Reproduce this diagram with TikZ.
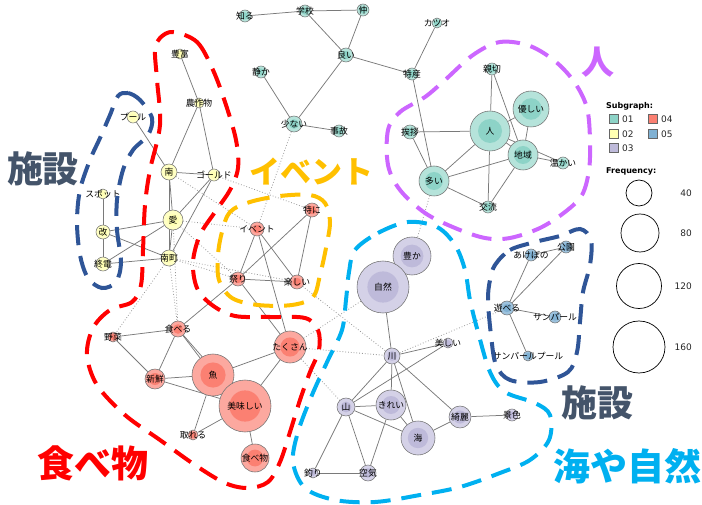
\documentclass[tikz,border=0pt]{standalone}
\usepackage{fontspec}
\setmainfont{DejaVu Sans}
\newfontfamily\cjk{Noto Sans CJK JP}
\usetikzlibrary{backgrounds}
\definecolor{tA}{HTML}{8DD3C7}\definecolor{tAL}{HTML}{B5E3DA}
\definecolor{yB}{HTML}{FFFFB3}\definecolor{yBL}{HTML}{FFFFC4}
\definecolor{pC}{HTML}{BEBADA}\definecolor{pCL}{HTML}{D4D1E7}
\definecolor{rD}{HTML}{FB8072}\definecolor{rDL}{HTML}{FCA89F}
\definecolor{bE}{HTML}{80B1D3}\definecolor{bEL}{HTML}{9DC2DD}
\definecolor{cRed}{HTML}{FF0000}
\definecolor{cOra}{HTML}{FFC000}
\definecolor{cPur}{HTML}{CC66FF}
\definecolor{cCya}{HTML}{00B0F0}
\definecolor{cNav}{HTML}{2F5597}
\definecolor{cSla}{HTML}{44546A}
\newcommand{\wn}[6]{%
  \node[wnode, fill=#5L, minimum size=#4*2pt,
    path picture={\fill[#5] (path picture bounding box.center) circle[radius=#4*0.6pt];}]
    (#1) at (#2,#3) {};
  \node[wlab] (#1t) at (#1.center) {#6};}
\begin{document}
\begin{tikzpicture}[x=1pt,y=-1pt,
  wnode/.style={circle, draw=black!55, line width=0.55pt, inner sep=0pt},
  wlab/.style={font=\cjk\fontsize{8.8}{9}\selectfont, inner sep=0pt, text=black},
  edge/.style={draw=black!52, line width=0.75pt},
  dots/.style={draw=black!40, line width=0.8pt, dotted},
  grp/.style={line width=4pt, dash pattern=on 20pt off 11pt, line cap=butt},
  biglab/.style={font=\cjk\bfseries\fontsize{#1}{#1}\selectfont, inner sep=0pt},
  legtxt/.style={font=\fontsize{9}{10}\selectfont, inner sep=0pt, text=black!85},
  leghead/.style={font=\bfseries\fontsize{8}{9}\selectfont, inner sep=0pt, anchor=west},
  legbox/.style={draw=black!60, line width=0.6pt, minimum size=9pt, inner sep=0pt},
  freq/.style={circle, draw=black, line width=0.7pt, inner sep=0pt},
]
\useasboundingbox (0,0) rectangle (702,505);

% ---- subgraph 01
\wn{shiru}{245}{16}{6}{tA}{知る}
\wn{gakkou}{305}{11}{6}{tA}{学校}
\wn{naka}{363}{10}{6}{tA}{仲}
\wn{yoi}{346}{55}{7}{tA}{良い}
\wn{katsuo}{437}{23}{5}{tA}{カツオ}
\wn{tokusan}{412}{74}{6}{tA}{特産}
\wn{shizuka}{261}{72}{6}{tA}{静か}
\wn{sukunai}{294}{124}{8}{tA}{少ない}
\wn{jiko}{339}{131}{6}{tA}{事故}
\wn{shinsetsu}{492}{69}{6}{tA}{親切}
\wn{yasashii}{531}{109}{18}{tA}{優しい}
\wn{hito}{490}{131}{20}{tA}{人}
\wn{aisatsu}{410}{132}{7}{tA}{挨拶}
\wn{chiiki}{523}{155}{15}{tA}{地域}
\wn{atatakai}{563}{163}{6}{tA}{温かい}
\wn{ooi}{434}{181}{15}{tA}{多い}
\wn{kouryu}{488}{207}{6}{tA}{交流}
% ---- subgraph 02
\wn{houfu}{180}{54}{5}{yB}{豊富}
\wn{nousaku}{199}{103}{5}{yB}{農作物}
\wn{puuru}{133}{117}{6}{yB}{プール}
\wn{minami}{169}{172}{8}{yB}{南}
\wn{gold}{214}{175}{6}{yB}{ゴールド}
\wn{ai}{173}{220}{10}{yB}{愛}
\wn{minamimachi}{169}{258}{8}{yB}{南町}
\wn{spot}{103}{194}{5}{yB}{スポット}
\wn{kai}{103}{232}{7}{yB}{改}
\wn{shuuden}{103}{264}{7}{yB}{終電}
% ---- subgraph 04
\wn{event}{257}{229}{7}{rD}{イベント}
\wn{tokuni}{312}{210}{7}{rD}{特に}
\wn{matsuri}{238}{279}{7}{rD}{祭り}
\wn{tanoshii}{297}{282}{7}{rD}{楽しい}
\wn{taberu}{178}{329}{8}{rD}{食べる}
\wn{yasai}{113}{337}{5}{rD}{野菜}
\wn{shinsen}{155}{379}{10}{rD}{新鮮}
\wn{sakana}{213}{375}{21}{rD}{魚}
\wn{takusan}{290}{347}{16}{rD}{たくさん}
\wn{oishii}{245}{406}{26}{rD}{美味しい}
\wn{toreru}{193}{435}{5}{rD}{取れる}
\wn{tabemono}{255}{458}{14}{rD}{食べ物}
% ---- subgraph 03
\wn{yutaka}{412}{256}{19}{pC}{豊か}
\wn{shizen}{383}{287}{26}{pC}{自然}
\wn{kawa}{392}{356}{8}{pC}{川}
\wn{utsukushii}{448}{343}{5}{pC}{美しい}
\wn{yama}{346}{407}{9}{pC}{山}
\wn{kirei}{391}{405}{15}{pC}{きれい}
\wn{umi}{418}{438}{17}{pC}{海}
\wn{kireiB}{460}{417}{11}{pC}{綺麗}
\wn{tsuri}{313}{473}{5}{pC}{釣り}
\wn{kuuki}{368}{473}{8}{pC}{空気}
\wn{keshiki}{512}{415}{6}{pC}{景色}
% ---- subgraph 05
\wn{akebono}{531}{255}{6}{bE}{あけぼの}
\wn{kouen}{566}{247}{6}{bE}{公園}
\wn{asoberu}{507}{308}{7}{bE}{遊べる}
\wn{sunpearl}{555}{317}{6}{bE}{サンパール}
\wn{sunpool}{528}{356}{5}{bE}{サンパールプール}

\begin{pgfonlayer}{background}
\foreach \a/\b in {shiru/gakkou, gakkou/naka, gakkou/yoi, naka/yoi, yoi/tokusan, yoi/sukunai,
  shizuka/sukunai, sukunai/jiko, katsuo/tokusan, tokusan/ooi, aisatsu/hito, aisatsu/ooi,
  shinsetsu/hito, shinsetsu/chiiki, hito/yasashii, hito/chiiki, hito/ooi, hito/kouryu,
  hito/atatakai, yasashii/chiiki, chiiki/atatakai, chiiki/ooi, chiiki/kouryu, ooi/kouryu,
  houfu/nousaku, nousaku/minami, nousaku/gold, puuru/minami, minami/gold, minami/ai,
  minami/minamimachi, ai/minamimachi, ai/kai, ai/shuuden, gold/ai, gold/minamimachi,
  kai/minamimachi, spot/kai, kai/shuuden, shuuden/minamimachi,
  event/matsuri, event/tanoshii, event/takusan, tokuni/matsuri, tokuni/tanoshii,
  matsuri/tanoshii, matsuri/takusan, matsuri/taberu, taberu/yasai, taberu/shinsen,
  taberu/sakana, taberu/oishii, yasai/shinsen, shinsen/sakana, shinsen/oishii,
  sakana/takusan, sakana/oishii, sakana/toreru, oishii/toreru, oishii/takusan, oishii/tabemono,
  yutaka/shizen, shizen/kawa, kawa/utsukushii, kawa/yama, kawa/kirei, kawa/umi, kawa/kireiB,
  utsukushii/yama, yama/kirei, yama/umi, yama/tsuri, yama/kuuki, kirei/umi, kirei/kuuki,
  umi/kireiB, tsuri/kuuki, kireiB/keshiki,
  akebono/kouen, akebono/asoberu, kouen/asoberu, asoberu/sunpearl, asoberu/sunpool}
  \draw[edge] (\a) -- (\b);
\foreach \a/\b in {sukunai/event, ooi/yutaka, gold/tokuni, minami/event, ai/event, ai/matsuri,
  minamimachi/matsuri, minamimachi/tanoshii, minamimachi/taberu, ai/taberu, minamimachi/yasai,
  tanoshii/kawa, takusan/kawa, takusan/shizen, takusan/yama, kawa/asoberu}
  \draw[dots] (\a) -- (\b);
\end{pgfonlayer}

% ---- group outlines
\draw[grp, cRed] plot[smooth cycle, tension=0.55] coordinates {
  (173,32) (197,42) (213,70) (226,105) (236,140) (238,168) (230,190) (215,212) (200,235)
  (193,262) (197,288) (212,305) (235,316) (270,317) (305,318) (318,330) (319,350) (310,372)
  (300,400) (290,432) (280,462) (268,482) (248,488) (225,483) (195,465) (160,440) (125,415)
  (97,385) (87,355) (93,328) (110,310) (132,302) (141,285) (143,250) (145,205) (150,170)
  (160,125) (157,80) (155,50) (160,38)};
\draw[grp, cNav] plot[smooth cycle, tension=0.55] coordinates {
  (118,96) (128,93) (140,100) (152,118) (148,135) (133,150) (123,170) (117,200) (117,230)
  (121,262) (116,282) (102,288) (88,278) (80,255) (77,222) (80,190) (90,160) (100,138) (110,115)};
\draw[grp, cOra] plot[smooth cycle, tension=0.55] coordinates {
  (230,212) (250,202) (280,196) (310,195) (325,203) (330,222) (326,248) (320,275) (313,297)
  (292,305) (258,305) (232,298) (219,280) (218,255) (222,232)};
\draw[grp, cPur] plot[smooth cycle, tension=0.55] coordinates {
  (473,55) (500,42) (530,46) (556,62) (575,83) (587,108) (590,140) (589,170) (582,195)
  (565,212) (540,228) (510,238) (485,238) (455,228) (425,213) (400,190) (388,165) (388,130)
  (400,112) (425,97) (445,80)};
\draw[grp, cCya] plot[smooth cycle, tension=0.55] coordinates {
  (355,250) (378,233) (408,222) (437,227) (455,245) (465,270) (470,300) (478,332) (490,372)
  (505,392) (535,403) (550,415) (549,440) (530,460) (500,473) (460,487) (420,495) (375,502)
  (335,500) (305,488) (293,462) (298,432) (312,395) (328,360) (342,330) (346,300) (349,272)};
\draw[grp, cNav] plot[smooth cycle, tension=0.55] coordinates {
  (495,265) (510,250) (535,242) (560,236) (580,229) (591,240) (590,265) (583,292) (580,322)
  (577,352) (568,372) (540,382) (510,380) (496,365) (491,335) (488,300) (490,280)};

% ---- big labels
\node[biglab=36, text=cSla] (shisetsuA) at (43,169) {施設};
\node[biglab=36, text=cSla] (shisetsuB) at (597,403) {施設};
\node[biglab=31, text=cOra] (ibento) at (311,172) {イベント};
\node[biglab=33, text=cPur] (hitoL) at (598,62) {人};
\node[biglab=37, text=cRed] (tabemonoL) at (93,463) {食べ物};
\node[biglab=37, text=cCya] (shizenL) at (627,466) {海や自然};

% ---- legend
\node[leghead] (subg) at (606,106) {Subgraph:};
\node[legbox, fill=tA] (l01) at (613.5,119) {};
\node[legtxt, anchor=west] (l01t) at (622,119) {01};
\node[legbox, fill=rD] (l04) at (652.5,119) {};
\node[legtxt, anchor=west] (l04t) at (661,119) {04};
\node[legbox, fill=yB] (l02) at (613.5,134) {};
\node[legtxt, anchor=west] (l02t) at (622,134) {02};
\node[legbox, fill=bE] (l05) at (652.5,134) {};
\node[legtxt, anchor=west] (l05t) at (661,134) {05};
\node[legbox, fill=pC] (l03) at (613.5,148) {};
\node[legtxt, anchor=west] (l03t) at (622,148) {03};
\node[leghead] (freqh) at (606,171) {Frequency:};
\node[freq, minimum size=26pt] (f40) at (639,193) {};
\node[legtxt, anchor=east] (f40t) at (692,193) {40};
\node[freq, minimum size=38pt] (f80) at (640,233) {};
\node[legtxt, anchor=east] (f80t) at (692,233) {80};
\node[freq, minimum size=45pt] (f120) at (639,286) {};
\node[legtxt, anchor=east] (f120t) at (692,286) {120};
\node[freq, minimum size=52pt] (f160) at (639,347) {};
\node[legtxt, anchor=east] (f160t) at (692,347) {160};
\end{tikzpicture}
\end{document}
